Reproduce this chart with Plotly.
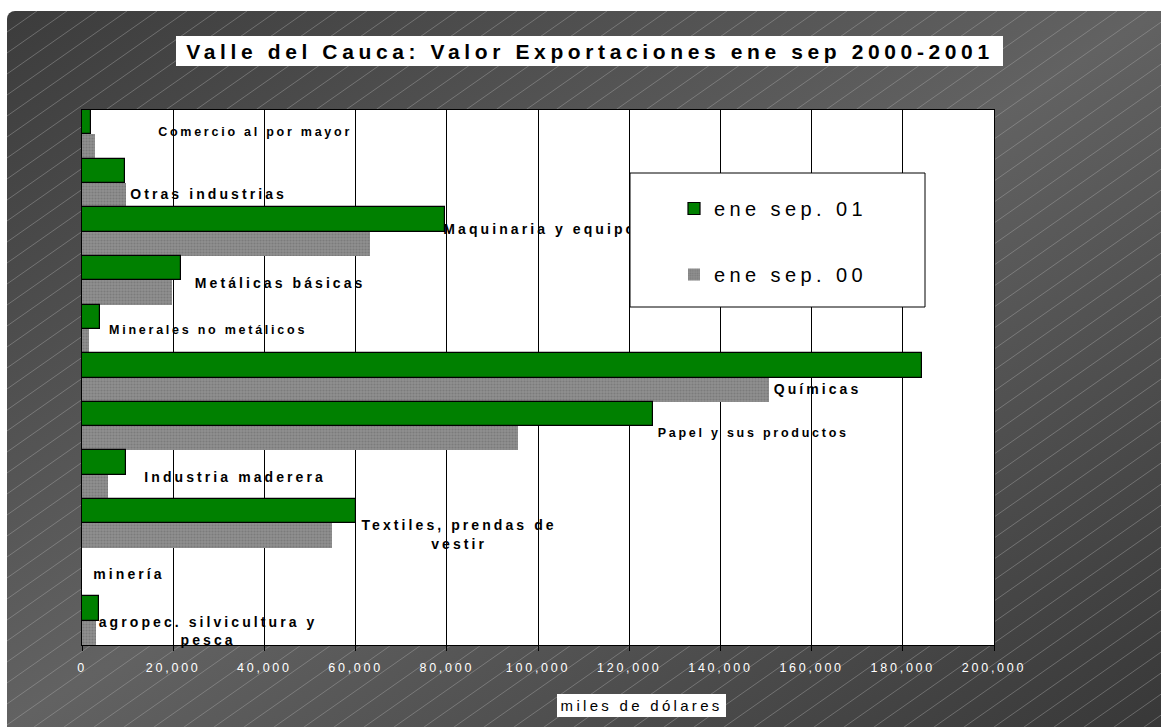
import base64
import plotly.graph_objects as go

# ---------------- data ----------------
categories = [
    "Comercio al por mayor",
    "Otras industrias",
    "Maquinaria y equipo",
    "Metálicas básicas",
    "Minerales no metálicos",
    "Químicas",
    "Papel y sus productos",
    "Industria maderera",
    "Textiles, prendas de vestir",
    "minería",
    "agropec. silvicultura y pesca",
]
values_01 = [2000, 9400, 79500, 21600, 4000, 184300, 125300, 9700, 60000, 0, 3700]
values_00 = [2800, 9600, 63200, 19700, 1600, 150700, 95700, 5800, 54800, 0, 3000]
series_names = ["ene sep. 01", "ene sep. 00"]
tick_vals = [0, 20000, 40000, 60000, 80000, 100000, 120000, 140000, 160000, 180000, 200000]

title_text = "Valle del Cauca: Valor Exportaciones ene sep 2000-2001"
x_title_text = "miles de dólares"

# data-label texts (as shown on the chart)
label_text = [
    "Comercio al por mayor",
    "Otras industrias",
    "Maquinaria y equipo",
    "Metálicas básicas",
    "Minerales no metálicos",
    "Químicas",
    "Papel y sus productos",
    "Industria maderera",
    "Textiles, prendas de<br>vestir",
    "minería",
    "agropec. silvicultura y<br>pesca",
]

# ---------------- label placement (style) ----------------
label_x = [37960, 27760, 100500, 43450, 27650, 161300, 147200, 33570, 82700, 10300, 27650]
label_dy = [0.03, -0.25, 0.03, -0.08, -0.04, -0.26, -0.16, -0.07, -0.26, -0.08, -0.25]
label_size = [12.5, 14, 14, 14, 12.5, 14, 12.5, 14, 14, 14, 14]

FONT = "Arial, Liberation Sans, sans-serif"
WIDTH, HEIGHT = 1161, 727
ML, MR, MT, MB = 82, 167, 110, 82
PW = WIDTH - ML - MR
PH = HEIGHT - MT - MB


def px(xp):
    return (xp - ML) / PW


def py(yp):
    return (HEIGHT - MB - yp) / PH


# ---------------- background (gradient + diagonal lines) ----------------
BW, BH = WIDTH - 7, HEIGHT - 11
lines = []
slope = 0.7
step = 30
x = -BH / slope
while x < BW + step:
    lines.append(
        f'<line x1="{x:.1f}" y1="{BH}" x2="{x + BH / slope:.1f}" y2="0" '
        f'stroke="#b0b0b0" stroke-width="0.6" stroke-opacity="0.7"/>'
    )
    x += step
svg = (
    f'<svg xmlns="http://www.w3.org/2000/svg" width="{BW}" height="{BH}" '
    f'viewBox="0 0 {BW} {BH}" preserveAspectRatio="none">'
    '<defs><linearGradient id="g" x1="0" y1="0" x2="1" y2="1">'
    '<stop offset="0" stop-color="#3c3c3c"/>'
    '<stop offset="0.5" stop-color="#626262"/>'
    '<stop offset="1" stop-color="#383838"/>'
    '</linearGradient><clipPath id="c">'
    f'<rect x="0" y="0" width="{BW + 20}" height="{BH + 20}" rx="8" ry="8"/></clipPath></defs>'
    f'<g clip-path="url(#c)"><rect x="0" y="0" width="{BW}" height="{BH}" fill="url(#g)"/>'
    + "".join(lines)
    + "</g></svg>"
)
bg_src = "data:image/svg+xml;base64," + base64.b64encode(svg.encode("utf-8")).decode("ascii")

# ---------------- figure ----------------
cat_order = categories[::-1]  # bottom to top
fig = go.Figure()

fig.add_trace(
    go.Bar(
        name=series_names[1],
        y=categories,
        x=values_00,
        orientation="h",
        legendgroup="g00",
        legendrank=2,
        marker=dict(
            color="#848484",
            line=dict(width=0),
            pattern=dict(shape=".", fgcolor="#666666", bgcolor="#909090", size=3, solidity=0.4),
        ),
        hoverinfo="skip",
    )
)
fig.add_trace(
    go.Bar(
        name=series_names[0],
        y=categories,
        x=values_01,
        orientation="h",
        legendgroup="g01",
        legendrank=1,
        marker=dict(color="#008000", line=dict(color="#000000", width=1.2)),
        hoverinfo="skip",
    )
)

label_y = [cat_order.index(c) + d for c, d in zip(categories, label_dy)]
fig.add_trace(
    go.Scatter(
        x=label_x,
        y=label_y,
        text=label_text,
        mode="text",
        textposition="middle center",
        textfont=dict(family=FONT, size=label_size, color="#000000", weight="bold"),
        yaxis="y2",
        showlegend=False,
        hoverinfo="skip",
        cliponaxis=False,
    )
)

fig.update_layout(
    width=WIDTH,
    height=HEIGHT,
    margin=dict(l=ML, r=MR, t=MT, b=MB, autoexpand=False),
    paper_bgcolor="#ffffff",
    plot_bgcolor="#ffffff",
    barmode="group",
    bargap=0,
    bargroupgap=0,
    font=dict(family=FONT, color="#000000"),
    xaxis=dict(
        range=[0, 200000],
        tickvals=tick_vals,
        tickformat=",",
        showgrid=True,
        gridcolor="#000000",
        gridwidth=1,
        zeroline=False,
        showline=True,
        linecolor="#000000",
        linewidth=1,
        mirror=True,
        ticks="outside",
        ticklen=5,
        tickcolor="#000000",
        tickfont=dict(family=FONT, size=12.5, color="#ffffff"),
        ticklabelstandoff=6,
        fixedrange=True,
    ),
    yaxis=dict(
        categoryorder="array",
        categoryarray=cat_order,
        range=[-0.5, 10.5],
        showticklabels=False,
        showgrid=False,
        zeroline=False,
        showline=True,
        linecolor="#000000",
        linewidth=1,
        mirror=True,
        ticks="",
        fixedrange=True,
    ),
    yaxis2=dict(
        overlaying="y",
        range=[-0.5, 10.5],
        visible=False,
        fixedrange=True,
    ),
    showlegend=True,
    legend=dict(
        x=px(674),
        y=py(189),
        xanchor="left",
        yanchor="top",
        bgcolor="rgba(0,0,0,0)",
        borderwidth=0,
        font=dict(family=FONT, size=20, color="#000000"),
        traceorder="grouped",
        tracegroupgap=37,
        itemwidth=30,
    ),
    images=[
        dict(
            source=bg_src,
            xref="paper",
            yref="paper",
            x=px(7),
            y=py(11),
            sizex=BW / PW,
            sizey=BH / PH,
            xanchor="left",
            yanchor="top",
            sizing="stretch",
            layer="below",
        )
    ],
    shapes=[
        # white plot area over the background image
        dict(type="rect", xref="paper", yref="paper", x0=0, x1=1, y0=0, y1=1,
             fillcolor="#ffffff", line=dict(width=0), layer="below"),
        # title box
        dict(type="rect", xref="paper", yref="paper", x0=px(176), x1=px(1003), y0=py(66), y1=py(36),
             fillcolor="#ffffff", line=dict(width=0), layer="below"),
        # x-axis title box
        dict(type="rect", xref="paper", yref="paper", x0=px(557), x1=px(726), y0=py(717), y1=py(694),
             fillcolor="#ffffff", line=dict(width=0), layer="below"),
        # legend box
        dict(type="rect", xref="paper", yref="paper", x0=px(630), x1=px(925), y0=py(307), y1=py(173),
             fillcolor="#ffffff", line=dict(color="#000000", width=1), layer="above"),
    ],
    annotations=[
        dict(text=title_text, xref="paper", yref="paper", x=px(589.5), y=py(51),
             xanchor="center", yanchor="middle", showarrow=False,
             font=dict(family=FONT, size=21, color="#000000", weight="bold")),
        dict(text=x_title_text, xref="paper", yref="paper", x=px(641.5), y=py(705.5),
             xanchor="center", yanchor="middle", showarrow=False,
             font=dict(family=FONT, size=15, color="#000000")),
    ],
)

post = (
    "var s=document.createElement('style');"
    "s.textContent='body{margin:0;padding:0;} svg text{letter-spacing:0.22em;}';"
    "document.head.appendChild(s);"
    "var gd=document.getElementById('{plot_id}');"
    "Plotly.relayout(gd, {'legend.font.size': 20.01});"
)
fig.write_html("out.html", config={"displayModeBar": False}, post_script=post)
